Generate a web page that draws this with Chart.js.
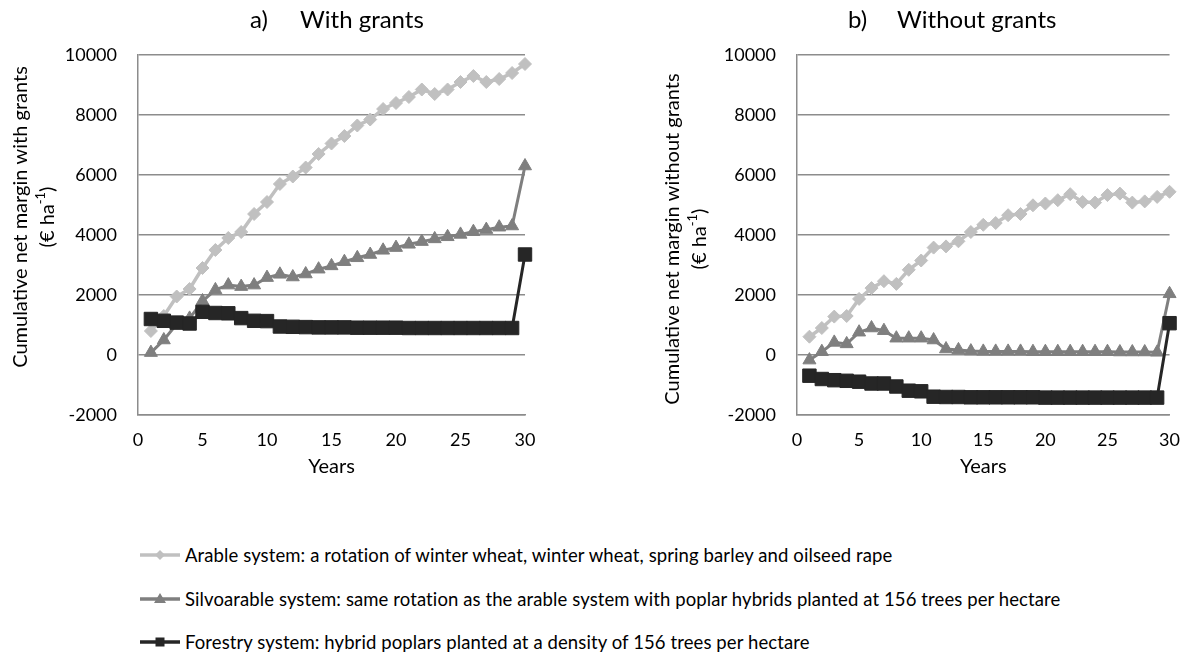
<!DOCTYPE html>
<html>
<head>
<meta charset="utf-8">
<script src="https://cdn.jsdelivr.net/npm/chart.js@4.4.1/dist/chart.umd.min.js"></script>
<style>
  html, body { margin: 0; padding: 0; background: #fff; width: 1194px; height: 659px; overflow: hidden; }
  #withGrants { position: absolute; left: 0; top: 0; }
  #withoutGrants { position: absolute; left: 600px; top: 0; }
  .legend { position: absolute; left: 140px; top: 0; font-family: Lato, sans-serif; font-size: 18.5px; letter-spacing: 0.1px; color: #000; }
  .legend .row { position: absolute; left: 0; height: 24px; display: flex; align-items: center; white-space: nowrap; }
  .legend svg { margin-right: 5px; flex: none; }
</style>
</head>
<body>
<canvas id="withGrants" width="600" height="490"></canvas>
<canvas id="withoutGrants" width="594" height="490"></canvas>
<div class="legend" id="legend"></div>
<script>
// Years of the 30-year rotation
const years = [1, 2, 3, 4, 5, 6, 7, 8, 9, 10, 11, 12, 13, 14, 15, 16, 17, 18, 19, 20, 21, 22, 23, 24, 25, 26, 27, 28, 29, 30];

// Cumulative net margin with grants (€ ha-1)
const arableWith = [800, 1300, 1950, 2200, 2900, 3500, 3900, 4100, 4700, 5100, 5700, 5950, 6250, 6700, 7050, 7300, 7650, 7850, 8200, 8400, 8600, 8850, 8700, 8850, 9100, 9300, 9100, 9200, 9400, 9700];
const silvoWith = [80, 500, 1030, 1220, 1800, 2170, 2330, 2280, 2330, 2580, 2690, 2600, 2700, 2860, 2970, 3110, 3240, 3350, 3490, 3580, 3690, 3780, 3870, 3940, 4020, 4110, 4180, 4260, 4300, 6300];
const forestryWith = [1200, 1140, 1080, 1050, 1440, 1400, 1390, 1230, 1140, 1130, 950, 940, 930, 920, 920, 920, 910, 910, 910, 910, 900, 900, 900, 900, 900, 900, 900, 900, 900, 3350];

// Cumulative net margin without grants (€ ha-1)
const arableWithout = [610, 900, 1280, 1300, 1870, 2230, 2460, 2370, 2840, 3150, 3580, 3620, 3790, 4100, 4340, 4400, 4660, 4700, 4990, 5050, 5160, 5360, 5100, 5080, 5330, 5380, 5080, 5120, 5270, 5440];
const silvoWithout = [-170, 110, 420, 370, 760, 900, 810, 560, 560, 560, 500, 200, 170, 130, 120, 120, 120, 120, 110, 110, 110, 110, 110, 110, 110, 100, 100, 100, 90, 2040];
const forestryWithout = [-690, -800, -840, -860, -890, -950, -950, -1050, -1190, -1210, -1390, -1400, -1400, -1410, -1410, -1410, -1410, -1410, -1410, -1420, -1420, -1420, -1420, -1420, -1420, -1420, -1420, -1420, -1420, 1060];

// Axis ticks
const yTickValues = [-2000, 0, 2000, 4000, 6000, 8000, 10000];
const xTickValues = [0, 5, 10, 15, 20, 25, 30];

// Series names
const seriesNames = [
  'Arable system: a rotation of winter wheat, winter wheat, spring barley and oilseed rape',
  'Silvoarable system: same rotation as the arable system with poplar hybrids planted at 156 trees per hectare',
  'Forestry system: hybrid poplars planted at a density of 156 trees per hectare'
];

const FONT = 'Lato, "Open Sans", sans-serif';
const GRID = '#8c8c8c';
const COLORS = { arable: '#c0c0c0', silvo: '#7f7f7f', forestry: '#262626' };

function points(values) {
  return years.map((yr, i) => ({ x: yr, y: values[i] }));
}

function makeDatasets(arable, silvo, forestry) {
  return [
    { label: seriesNames[0], data: points(arable), borderColor: COLORS.arable, backgroundColor: COLORS.arable,
      borderWidth: 3.5, pointStyle: 'rectRot', pointRadius: 6.5, pointBorderWidth: 1, order: 3, clip: false },
    { label: seriesNames[1], data: points(silvo), borderColor: COLORS.silvo, backgroundColor: COLORS.silvo,
      borderWidth: 3, pointStyle: 'triangle', pointRadius: 7.5, pointBorderWidth: 1, order: 2, clip: false },
    { label: seriesNames[2], data: points(forestry), borderColor: COLORS.forestry, backgroundColor: COLORS.forestry,
      borderWidth: 3, pointStyle: 'rect', pointRadius: 9.5, pointBorderWidth: 1, order: 1, clip: false }
  ];
}

// Panel heading, x title and two-line rotated y title
function panelText(cfg) {
  return {
    id: 'panelText',
    afterDraw(chart) {
      const ctx = chart.ctx;
      const a = chart.chartArea;
      ctx.save();
      ctx.fillStyle = '#000';

      ctx.font = '24px ' + FONT;
      ctx.textAlign = 'left';
      ctx.textBaseline = 'alphabetic';
      ctx.fillText(cfg.letter, cfg.letterX, 28);
      ctx.fillText(cfg.heading, cfg.headingX, 28);

      ctx.textBaseline = 'middle';
      ctx.font = '20px ' + FONT;
      ctx.textAlign = 'center';
      ctx.fillText('Years', (a.left + a.right) / 2, 467);

      ctx.translate(cfg.yTitleX, cfg.yTitleY);
      ctx.rotate(-Math.PI / 2);
      ctx.fillText(cfg.yTitle, 0, 0);

      // second line: (€ ha-1) with raised exponent
      const big = '20px ' + FONT, small = '13px ' + FONT;
      ctx.font = big; const w1 = ctx.measureText('(€ ha').width; const w3 = ctx.measureText(')').width;
      ctx.font = small; const w2 = ctx.measureText('-1').width;
      let x = -(w1 + w2 + w3) / 2;
      const ly = cfg.lineGap;
      ctx.textAlign = 'left';
      ctx.font = big; ctx.fillText('(€ ha', x, ly); x += w1;
      ctx.font = small; ctx.fillText('-1', x, ly - 7); x += w2;
      ctx.font = big; ctx.fillText(')', x, ly);
      ctx.restore();
    }
  };
}

function makeChart(id, datasets, yAxisWidth, padRight, textCfg) {
  return new Chart(document.getElementById(id), {
    type: 'line',
    data: { datasets },
    options: {
      responsive: false,
      animation: false,
      events: [],
      layout: { padding: { top: 55, right: padRight, left: 0, bottom: 0 } },
      plugins: { legend: { display: false }, tooltip: { enabled: false }, title: { display: false } },
      scales: {
        x: {
          type: 'linear', min: 0, max: 30,
          afterBuildTicks: s => { s.ticks = xTickValues.map(v => ({ value: v })); },
          afterFit: s => { s.height = 75; },
          ticks: { color: '#000', font: { family: FONT, size: 18 }, padding: 14, maxRotation: 0, autoSkip: false,
                   callback: v => String(v) },
          grid: { display: false, drawTicks: false },
          border: { display: true, color: GRID, width: 1.5 }
        },
        y: {
          min: -2000, max: 10000,
          afterBuildTicks: s => { s.ticks = yTickValues.map(v => ({ value: v })); },
          afterFit: s => { s.width = yAxisWidth; },
          ticks: { color: '#000', font: { family: FONT, size: 18 }, padding: 21, callback: v => String(v) },
          grid: { color: GRID, lineWidth: 1.5, drawTicks: false },
          border: { display: true, color: GRID, width: 1.5 }
        }
      }
    },
    plugins: [panelText(textCfg)]
  });
}

function legendMarker(kind, color) {
  let m = '';
  if (kind === 'diamond') m = `<polygon points="20,5 25,10 20,15 15,10" fill="${color}"/>`;
  if (kind === 'triangle') m = `<polygon points="20,4 26,14 14,14" fill="${color}"/>`;
  if (kind === 'square') m = `<rect x="15.5" y="5.5" width="9" height="9" fill="${color}"/>`;
  return `<svg width="40" height="20" viewBox="0 0 40 20"><line x1="0" y1="10" x2="40" y2="10" stroke="${color}" stroke-width="3.5"/>${m}</svg>`;
}

function buildLegend() {
  const rows = [
    { kind: 'diamond', color: COLORS.arable, y: 555 },
    { kind: 'triangle', color: COLORS.silvo, y: 599 },
    { kind: 'square', color: COLORS.forestry, y: 642 }
  ];
  document.getElementById('legend').innerHTML = rows.map((r, i) =>
    `<div class="row" style="top:${r.y - 12}px">${legendMarker(r.kind, r.color)}<span>${seriesNames[i]}</span></div>`
  ).join('');
}

function draw() {
  buildLegend();
  makeChart('withGrants', makeDatasets(arableWith, silvoWith, forestryWith), 138, 75,
    { letter: 'a)', letterX: 250, heading: 'With grants', headingX: 300,
      yTitle: 'Cumulative net margin with grants', yTitleX: 21, yTitleY: 217, lineGap: 27 });
  makeChart('withoutGrants', makeDatasets(arableWithout, silvoWithout, forestryWithout), 197, 18,
    { letter: 'b)', letterX: 248, heading: 'Without grants', headingX: 297,
      yTitle: 'Cumulative net margin without grants', yTitleX: 73, yTitleY: 239, lineGap: 27 });
}

if (document.fonts && document.fonts.load) {
  Promise.all([document.fonts.load('18px Lato'), document.fonts.load('13px Lato'), document.fonts.load('24px Lato')]).then(draw, draw);
} else {
  draw();
}
</script>
</body>
</html>
